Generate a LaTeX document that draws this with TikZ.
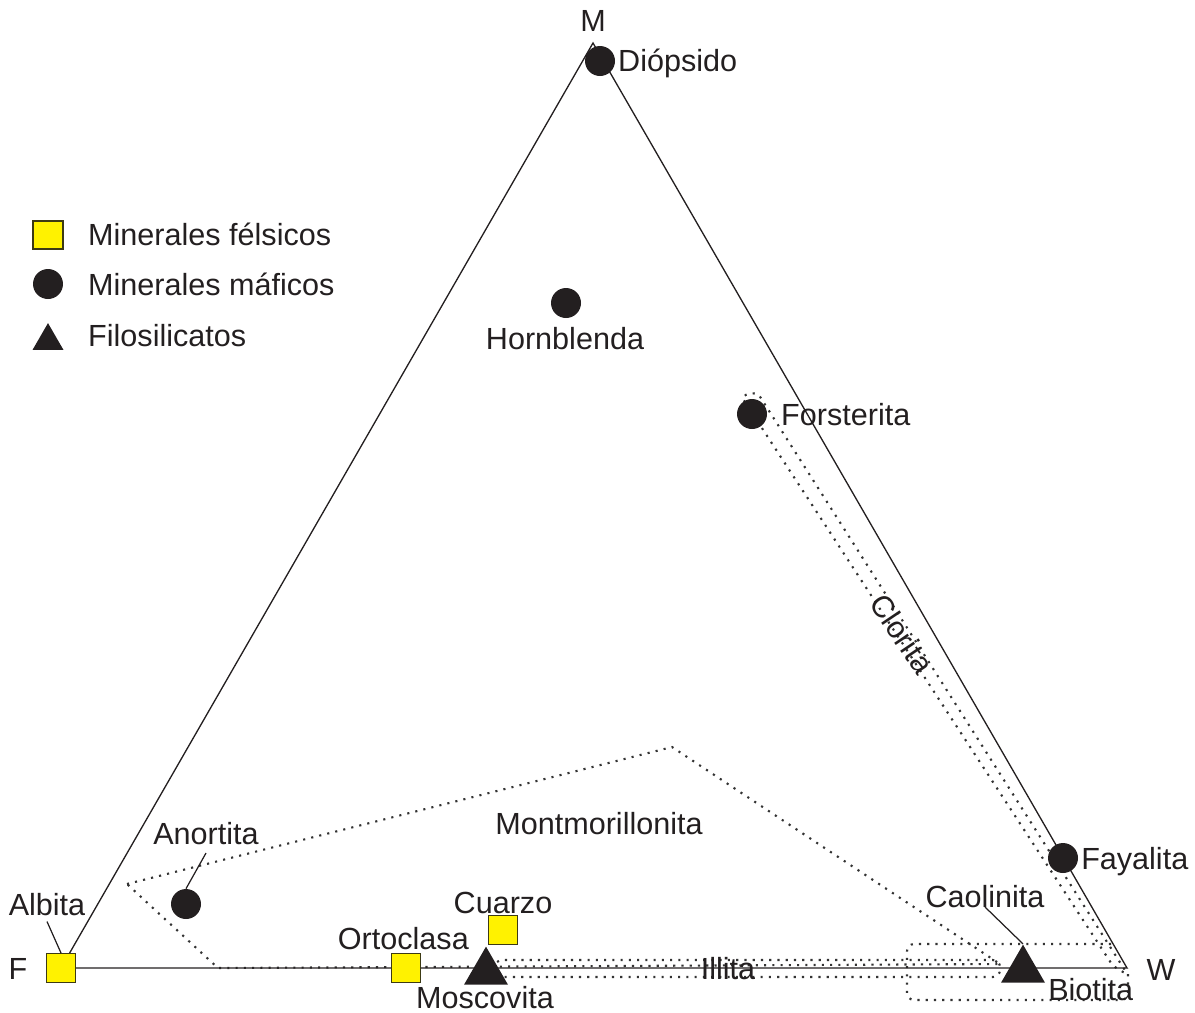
\documentclass[tikz,border=0pt]{standalone}
\usepackage{fontspec}
\setsansfont{Liberation Sans}
\usepackage{xcolor}
\usepackage{tikz}
\usetikzlibrary{shapes.geometric}
\definecolor{INK}{HTML}{231F20}
\definecolor{FEL}{HTML}{FFF200}
\definecolor{FELB}{HTML}{3C3A14}
\definecolor{DOT}{HTML}{333333}

\begin{document}
\begin{tikzpicture}[
  x=0.02cm, y=-0.02cm,
  font=\sffamily\fontsize{17.4}{20}\selectfont,
  felsic/.style={rectangle, draw=FELB, line width=0.6pt, fill=FEL, minimum size=0.58cm, inner sep=0pt},
  mafic/.style={circle, fill=INK, minimum size=0.6cm, inner sep=0pt},
  filo/.style={regular polygon, regular polygon sides=3, fill=INK, minimum size=1.016cm, inner sep=0pt},
  lbl/.style={text=INK, inner sep=0.5pt},
  side/.style={INK, line width=0.75pt},
  field/.style={DOT, line width=1.2pt, dash pattern=on 1.2pt off 3.5pt},
  lead/.style={INK, line width=0.7pt},
]
\useasboundingbox (0,0) rectangle (1195,1012);

% ===== fields (dotted) =====
\draw[field] (127,884) -- (672,747) -- (1000,964) -- (218,968) -- cycle;
\draw[field, rounded corners=3pt] (741,396) -- (1113,966) -- (1128,975) -- (757,392) -- cycle;
\draw[field, rounded corners=4pt] (495,960) rectangle (1000,977);
\draw[field, rounded corners=4pt] (1111,944) -- (907,944) -- (907,1000) -- (1128,1000) -- (1128,968);

% ===== ternary frame =====
\coordinate (vF) at (61,968);
\coordinate (vW) at (1127,968);
\coordinate (vM) at (593,43);
\draw[side] (vF) -- (vW) -- (vM) -- cycle;
\node[lbl, anchor=base] (lM) at (593,31) {M};
\node[lbl, anchor=base] (lF) at (18,979) {F};
\node[lbl, anchor=base] (lW) at (1161,980) {W};

% ===== minerals =====
\node[mafic] (dio) at (600,61) {};
\node[mafic] (hor) at (566,303) {};
\node[mafic] (for) at (752,414) {};
\node[mafic] (fay) at (1063,858) {};
\node[mafic] (ano) at (186,904) {};
\node[felsic] (alb) at (61,968) {};
\node[felsic] (ort) at (406,968) {};
\node[felsic] (cua) at (503,930) {};
\node[filo] (mos) at (486,972) {};
\node[filo] (bio) at (1023,970) {};

\node[lbl, anchor=base west] (lDio) at (617,71) {Diópsido};
\node[lbl, anchor=base] (lHor) at (565,349) {Hornblenda};
\node[lbl, anchor=base west] (lFor) at (780,425) {Forsterita};
\node[lbl, anchor=base west] (lFay) at (1080,869) {Fayalita};
\node[lbl, anchor=base] (lAno) at (206,844) {Anortita};
\node[lbl, anchor=base] (lAlb) at (47,915) {Albita};
\node[lbl, anchor=base] (lCua) at (503,913) {Cuarzo};
\node[lbl, anchor=base east] (lOrt) at (470,949) {Ortoclasa};
\node[lbl, anchor=base] (lMos) at (485,1008) {Moscovita};
\node[lbl, anchor=base] (lCao) at (985,907) {Caolinita};
\node[lbl, anchor=base west] (lBio) at (1047,1000) {Biotita};

\draw[lead] ([yshift=-0.1cm]lAlb.south) -- (alb.north);
\draw[lead] ([yshift=-0.15cm]lAno.south) -- (ano.north);
\draw[lead] (lCao.base) -- (bio.corner 1);

% field names
\node[lbl] (lMon) at (599,824) {Montmorillonita};
\node[lbl, anchor=base] (lIll) at (728,979) {Illita};
\node[lbl, rotate=-56] (lClo) at (902,634) {Clorita};

% ===== legend =====
\node[felsic, minimum width=0.6cm, minimum height=0.56cm] (kFel) at (48,235) {};
\node[mafic] (kMaf) at (48,284) {};
\node[filo, minimum size=0.716cm] (kFil) at (48,341) {};
\node[lbl, anchor=base west] at (87,245) {Minerales félsicos};
\node[lbl, anchor=base west] at (87,295) {Minerales máficos};
\node[lbl, anchor=base west] at (87,346) {Filosilicatos};

\end{tikzpicture}
\end{document}
